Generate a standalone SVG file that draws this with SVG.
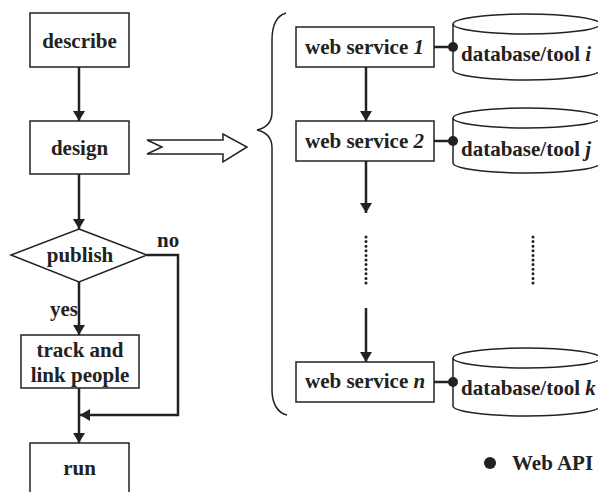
<svg xmlns="http://www.w3.org/2000/svg" width="598" height="492" viewBox="0 0 598 492">
<style>
.box{fill:#fff;stroke:#222;stroke-width:1.5}
.t{font-family:"Liberation Serif","Times New Roman",serif;font-weight:bold;font-size:21px;fill:#222}
.c{text-anchor:middle}
.conn{fill:none;stroke:#222;stroke-width:2.5}
.thin{fill:none;stroke:#222;stroke-width:1.5}
.dot{fill:none;stroke:#222;stroke-width:3;stroke-linecap:round;stroke-dasharray:0 4.6}
</style>
<defs>
<marker id="ah" markerWidth="10" markerHeight="12" refX="10" refY="6" orient="auto" markerUnits="userSpaceOnUse">
<path d="M0,0 L10,6 L0,12 Z" fill="#222"/>
</marker>
</defs>
<rect width="598" height="492" fill="#fff"/>

<g id="describe"><rect class="box" x="30" y="13" width="99" height="54"/><text class="t c" x="79.5" y="48">describe</text></g>
<g id="design"><rect class="box" x="30" y="121" width="99" height="53"/><text class="t c" x="79.5" y="155">design</text></g>
<g id="publish"><polygon class="box" points="79,229 147,255 79,282 11,255"/><text class="t c" x="80" y="262">publish</text></g>
<g id="track"><rect class="box" x="21" y="335" width="118" height="53"/><text class="t c" x="80" y="357">track and</text><text class="t c" x="80" y="382">link people</text></g>
<g id="run"><rect class="box" x="30" y="443" width="99" height="60"/><text class="t c" x="79.5" y="475">run</text></g>

<g id="ws1"><rect class="box" x="296" y="27" width="138" height="40"/><text class="t" x="305" y="54">web service <tspan font-style="italic">1</tspan></text></g>
<g id="ws2"><rect class="box" x="296" y="121" width="138" height="40"/><text class="t" x="305" y="148">web service <tspan font-style="italic">2</tspan></text></g>
<g id="wsn"><rect class="box" x="296" y="362" width="138" height="40"/><text class="t" x="305" y="388">web service <tspan font-style="italic">n</tspan></text></g>

<g id="db1"><path class="box" d="M453,24 L453,70 A73.5,10 0 0 0 600,70 L600,24"/><ellipse class="box" cx="526.5" cy="24" rx="73.5" ry="10"/><text class="t" x="461" y="61">database/tool <tspan font-style="italic">i</tspan></text></g>
<g id="db2"><path class="box" d="M453,118 L453,163 A73.5,10 0 0 0 600,163 L600,118"/><ellipse class="box" cx="526.5" cy="118" rx="73.5" ry="10"/><text class="t" x="461" y="156">database/tool <tspan font-style="italic">j</tspan></text></g>
<g id="db3"><path class="box" d="M453,358 L453,406 A73.5,10 0 0 0 600,406 L600,358"/><ellipse class="box" cx="526.5" cy="358" rx="73.5" ry="10"/><text class="t" x="461" y="395">database/tool <tspan font-style="italic">k</tspan></text></g>

<g id="hollow-arrow"><polygon class="thin" points="147,140 223,140 223,134 247,147 223,162 223,154 147,154 162,147" fill="#fff"/></g>
<g id="brace"><path class="thin" d="M286,13 C276,16 272,26 272,40 L272,112 C272,123 266,128 257,130 C266,132 272,137 272,148 L272,390 C272,404 278,413 287,415"/></g>

<g id="connectors">
<line class="conn" x1="79" y1="67" x2="79" y2="121" marker-end="url(#ah)"/>
<line class="conn" x1="79" y1="174" x2="79" y2="229" marker-end="url(#ah)"/>
<line class="conn" x1="79" y1="282" x2="79" y2="335" marker-end="url(#ah)"/>
<line class="conn" x1="79" y1="388" x2="79" y2="443" marker-end="url(#ah)"/>
<polyline class="conn" points="147,255 178,255 178,415 80,415" marker-end="url(#ah)"/>
<line class="conn" x1="366" y1="67" x2="366" y2="121" marker-end="url(#ah)"/>
<line class="conn" x1="366" y1="161" x2="366" y2="213" marker-end="url(#ah)"/>
<line class="conn" x1="366" y1="308" x2="366" y2="362" marker-end="url(#ah)"/>
<line class="dot" x1="366" y1="237" x2="366" y2="283"/>
<line class="dot" x1="533" y1="237" x2="533" y2="283"/>
<line class="conn" x1="434" y1="47" x2="453" y2="47"/><circle cx="453" cy="47" r="5" fill="#222"/>
<line class="conn" x1="434" y1="141" x2="453" y2="141"/><circle cx="453" cy="141" r="5" fill="#222"/>
<line class="conn" x1="434" y1="382" x2="453" y2="382"/><circle cx="453" cy="382" r="5" fill="#222"/>
</g>
<text class="t" x="157" y="247">no</text>
<text class="t" x="50" y="316">yes</text>
<circle cx="490" cy="463" r="6" fill="#222"/>
<text class="t" x="512" y="470">Web API</text>
</svg>
